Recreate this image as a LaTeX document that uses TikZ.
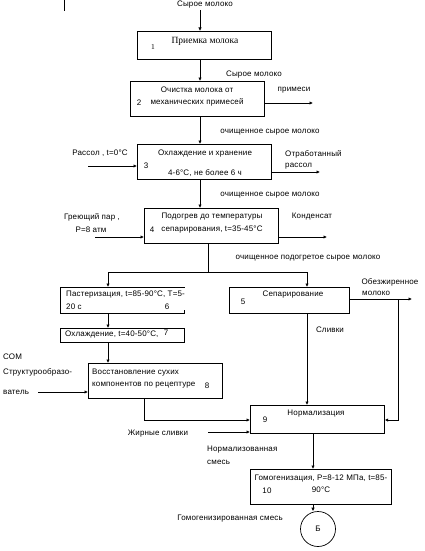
\documentclass[tikz,border=0pt]{standalone}
\usepackage{fontspec}
\setmainfont[LetterSpace=2]{Liberation Sans}
\newfontfamily\serfont{Liberation Serif}
\usetikzlibrary{arrows.meta}
\begin{document}
\begin{tikzpicture}[x=1pt,y=-1pt,
  lbl/.style={inner sep=0pt,font=\fontsize{8}{9}\selectfont},
  lbll/.style={lbl,anchor=west},
  box/.style={draw,line width=0.7pt,inner sep=0pt,anchor=north west},
  ln/.style={line width=0.7pt},
  arr/.style={ln,-{Latex[length=3.5pt,width=3.5pt]}}]
\useasboundingbox (0,0) rectangle (424,551);
% column coordinates
\coordinate (x200) at (200,0);
\coordinate (x208) at (208,0);
\coordinate (x108) at (108,0);
\coordinate (x307) at (307,0);
\coordinate (x144) at (144,0);
\coordinate (x313) at (313,0);
\coordinate (x398) at (398,0);
% stray mark
\draw[line width=1pt] (64,0) -- (64,11);
% inputs
\node[lbl] (t0) at (205,5) {Сырое молоко};
\coordinate (in0) at (200,10);
% box 1
\node[box,minimum width=134pt,minimum height=28pt] (b1) at (137,31) {};
\node[inner sep=0pt,font=\serfont\fontsize{9.5}{11}\selectfont] (b1t) at (205,41) {Приемка молока};
\node[inner sep=0pt,font=\serfont\fontsize{7.5}{9}\selectfont] (b1n) at (153,47) {1};
\draw[arr] (in0) -- (b1.north -| x200);
% box 2
\node[box,minimum width=134pt,minimum height=35pt] (b2) at (130,81) {};
\node[lbl] (b2t1) at (197,90) {Очистка молока от};
\node[lbl] (b2t2) at (197,102) {механических примесей};
\node[lbl] (b2n) at (139,103) {2};
\node[lbl] (l12) at (254,75) {Сырое молоко};
\draw[arr] (b1.south -| x200) -- (b2.north -| x200);
\coordinate (o2) at (313,103);
\draw[arr] (b2.east |- o2) -- (o2);
\node[lbl] (l2o) at (294,90) {примеси};
% box 3
\node[box,minimum width=134pt,minimum height=35pt] (b3) at (137,144) {};
\node[lbl] (b3t1) at (205,154) {Охлаждение и хранение};
\node[lbl] (b3t2) at (205,173) {4-6°С, не более 6 ч};
\node[lbl] (b3n) at (146,166) {3};
\node[lbl] (l23) at (270,132) {очищенное сырое молоко};
\draw[arr] (b2.south -| x200) -- (b3.north -| x200);
\node[lbl] (l3i) at (100,153) {Рассол , t=0°C};
\coordinate (i3) at (88,166);
\draw[arr] (i3) -- (b3.west |- i3);
\node[lbll] (l3o1) at (285,154) {Отработанный};
\node[lbll] (l3o2) at (285,166) {рассол};
\coordinate (o3) at (320,172);
\draw[arr] (b3.east |- o3) -- (o3);
% box 4
\node[box,minimum width=134pt,minimum height=35pt] (b4) at (144,208) {};
\node[lbl] (b4t1) at (212,217) {Подогрев до температуры};
\node[lbl] (b4t2) at (212,230) {сепарирования, t=35-45°C};
\node[lbl] (b4n) at (152,230) {4};
\node[lbl] (l34) at (270,195) {очищенное сырое молоко};
\draw[arr] (b3.south -| x200) -- (b4.north -| x200);
\node[lbl] (l4i1) at (92,217) {Греющий пар ,};
\node[lbl] (l4i2) at (91,230) {P=8 атм};
\coordinate (i4) at (95,237);
\draw[arr] (i4) -- (b4.west |- i4);
\node[lbl] (l4o) at (312,217) {Конденсат};
\coordinate (o4) at (327,237);
\draw[arr] (b4.east |- o4) -- (o4);
% split
\coordinate (sp) at (208,272);
\node[lbl] (l4s) at (308,258) {очищенное подогретое сырое молоко};
% box 6
\coordinate (b6nw) at (60,287);
\node[box,draw=none,minimum width=124pt,minimum height=26pt] (b6) at (b6nw) {};
\draw[ln] (b6.north east) -- (b6.north west) -- (b6.south west) -- (b6.south east) -- ++(0,-4);
\node[lbll] (b6t1) at (66,295) {Пастеризация, t=85-90°C, T=5-};
\node[lbll] (b6t2) at (66,307) {20 с};
\node[lbl] (b6n) at (167,307) {6};
% box 5
\node[box,minimum width=120pt,minimum height=26pt] (b5) at (229,287) {};
\node[lbl] (b5t) at (293,295) {Сепарирование};
\node[lbl] (b5n) at (243,302) {5};
\draw[ln] (b4.south -| x208) -- (sp);
\draw[ln] (sp -| x108) -- (sp -| x307);
\draw[arr] (sp -| x108) -- (b6.north -| x108);
\draw[arr] (sp -| x307) -- (b5.north -| x307);
% skim milk
\coordinate (o5) at (412,299);
\draw[arr] (b5.east |- o5) -- (o5);
\node[lbl] (l5o1) at (390,282) {Обезжиренное};
\node[lbll] (l5o2) at (362,293) {молоко};
% box 7
\node[box,minimum width=124pt,minimum height=14pt] (b7) at (60,328) {};
\node[lbll] (b7t) at (65,335) {Охлаждение, t=40-50°С,};
\node[lbl] (b7n) at (166,333) {7};
\draw[arr] (b6.south -| x108) -- (b7.north -| x108);
% box 8
\node[box,minimum width=134pt,minimum height=35pt] (b8) at (88,363) {};
\node[lbll] (b8t1) at (92,373) {Восстановление сухих};
\node[lbll] (b8t2) at (92,385) {компонентов по рецептуре};
\node[lbl] (b8n) at (207,386) {8};
\draw[arr] (b7.south -| x108) -- (b8.north -| x108);
\node[lbll] (l8a) at (3,357) {СОМ};
\node[lbll] (l8b) at (3,372) {Структурообразо-};
\node[lbll] (l8c) at (3,392) {ватель};
\coordinate (i8) at (38,392);
\draw[arr] (i8) -- (b8.west |- i8);
% box 9
\node[box,minimum width=134pt,minimum height=28pt] (b9) at (250,405) {};
\node[lbl] (b9t) at (316,414) {Нормализация};
\node[lbl] (b9n) at (265,420) {9};
\node[lbl] (l59) at (330,330) {Сливки};
\draw[arr] (b5.south -| x307) -- (b9.north -| x307);
\coordinate (j9) at (250,420);
\draw[arr] (b8.south -| x144) -- (x144 |- j9) -- (b9.west |- j9);
\draw[arr] (o5 -| x398) -- (x398 |- j9) -- (b9.east |- j9);
\node[lbl] (l9i) at (158,434) {Жирные сливки};
\coordinate (i9) at (208,432);
\draw[arr] (i9) -- (b9.west |- i9);
% box 10
\node[box,minimum width=141pt,minimum height=35pt] (b10) at (250,469) {};
\node[lbl] (b10t1) at (321,478) {Гомогенизация, P=8-12 МПа, t=85-};
\node[lbl] (b10t2) at (321,490) {90°С};
\node[lbl] (b10n) at (267,491) {10};
\draw[arr] (b9.south -| x313) -- (b10.north -| x313);
\node[lbll] (l910a) at (207,450) {Нормализованная};
\node[lbll] (l910b) at (207,462) {смесь};
% circle
\node[draw,line width=0.7pt,circle,minimum size=35pt,inner sep=0pt,font=\fontsize{8}{9}\selectfont] (cb) at (318,529) {Б};
\draw[arr] (b10.south -| x313) -- (cb.north -| x313);
\node[lbl] (lc) at (230,519) {Гомогенизированная смесь};
\end{tikzpicture}
\end{document}
